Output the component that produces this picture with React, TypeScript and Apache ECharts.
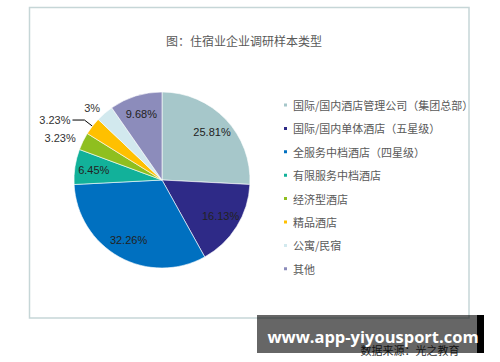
import React, { useEffect, useRef } from "react";
import * as echarts from "echarts";

const titleText = "图：住宿业企业调研样本类型";
const categories = [
  "国际/国内酒店管理公司（集团总部）",
  "国际/国内单体酒店（五星级）",
  "全服务中档酒店（四星级）",
  "有限服务中档酒店",
  "经济型酒店",
  "精品酒店",
  "公寓/民宿",
  "其他",
];
const values = [25.81, 16.13, 32.26, 6.45, 3.23, 3.23, 3.23, 9.68];
const valueLabels = ["25.81%", "16.13%", "32.26%", "6.45%", "3.23%", "3.23%", "3%", "9.68%"];
const insideLabel = [true, true, true, true, false, false, false, true];
const colors = ["#a6c7ca", "#2e2a87", "#0070c0", "#12b19a", "#8fbf1f", "#ffc000", "#d2e9ee", "#8c8cbb"];
const sourceText = "数据来源：光之教育";
const watermarkText = "www.app-yiyousport.com";

// outside label line settings for small slices [length, length2, showLine, distance]
const outsideLine: Record<number, [number, number, boolean, number]> = {
  4: [8, 0, false, 0],
  5: [10, 12, true, 2],
  6: [7, 0, false, 0],
};

export default function App() {
  const ref = useRef<HTMLDivElement>(null);
  useEffect(() => {
    document.body.style.margin = "0";
    if (!ref.current) return;
    const chart = echarts.init(ref.current, null, { renderer: "svg" });
    const font = "'Noto Sans CJK SC', 'Liberation Sans', sans-serif";
    const center = [162, 180];
    const R = 88;

    const mainData = categories.map((name, i) => {
      const o = outsideLine[i];
      return {
        name,
        value: values[i],
        itemStyle: { color: colors[i] },
        label: o
          ? { show: true, position: "outside", distanceToLabelLine: o[3] }
          : { show: false },
        labelLine: o
          ? { show: o[2], length: o[0], length2: o[1], lineStyle: { color: "#000", width: 1 } }
          : { show: false },
      };
    });

    const overlayData = categories.map((name, i) => ({
      name,
      value: values[i],
      itemStyle: { color: "rgba(0,0,0,0)" },
      label: { show: insideLabel[i] },
    }));

    chart.setOption({
      animation: false,
      textStyle: { fontFamily: font },
      title: {
        text: titleText,
        left: 239,
        top: 29,
        textAlign: "center",
        textStyle: { fontSize: 12, fontWeight: "normal", color: "#595959", fontFamily: font },
      },
      legend: {
        orient: "vertical",
        left: 277,
        top: 94,
        itemWidth: 5,
        itemHeight: 5,
        itemGap: 11.4,
        icon: "rect",
        data: categories,
        textStyle: { fontSize: 11, color: "#595959", lineHeight: 12, fontFamily: font },
      },
      graphic: [
        {
          type: "rect",
          z: -10,
          shape: { x: 29.5, y: 7.5, width: 439.5, height: 310.5 },
          style: { fill: "#fff", stroke: "#c6d6d7", lineWidth: 1.5 },
        },
        {
          type: "text",
          z: 100,
          x: 410,
          y: 350,
          style: {
            text: sourceText,
            fill: "#333",
            font: "11px 'Noto Sans CJK SC', sans-serif",
            align: "center",
            verticalAlign: "middle",
          },
        },
        {
          type: "rect",
          z: 101,
          shape: { x: 257, y: 315, width: 220, height: 38 },
          style: { fill: "rgba(0,0,0,0.6)" },
        },
        {
          type: "rect",
          z: 101,
          shape: { x: 477, y: 315, width: 7, height: 38 },
          style: { fill: "#000" },
        },
        {
          type: "text",
          z: 102,
          x: 373,
          y: 336,
          style: {
            text: watermarkText,
            fill: "#fff",
            font: "bold 16.5px 'Open Sans', 'DejaVu Sans', sans-serif",
            align: "center",
            verticalAlign: "middle",
          },
        },
      ],
      series: [
        {
          type: "pie",
          center,
          radius: [0, R],
          startAngle: 90,
          clockwise: true,
          avoidLabelOverlap: false,
          itemStyle: { borderColor: "#fff", borderWidth: 0.6 },
          label: {
            fontSize: 11,
            color: "#333",
            fontFamily: "'Liberation Sans', Arial, sans-serif",
            formatter: (p: any) => valueLabels[p.dataIndex],
          },
          emphasis: { disabled: true },
          data: mainData,
        },
        {
          type: "pie",
          center,
          radius: [0, 132],
          startAngle: 90,
          clockwise: true,
          silent: true,
          z: 5,
          avoidLabelOverlap: false,
          label: {
            position: "inside",
            fontSize: 11,
            color: "#222",
            fontFamily: "'Liberation Sans', Arial, sans-serif",
            formatter: (p: any) => valueLabels[p.dataIndex],
          },
          labelLine: { show: false },
          emphasis: { disabled: true },
          data: overlayData,
        },
      ],
    });
    return () => chart.dispose();
  }, []);
  return <div ref={ref} style={{ width: 500, height: 362 }} />;
}
